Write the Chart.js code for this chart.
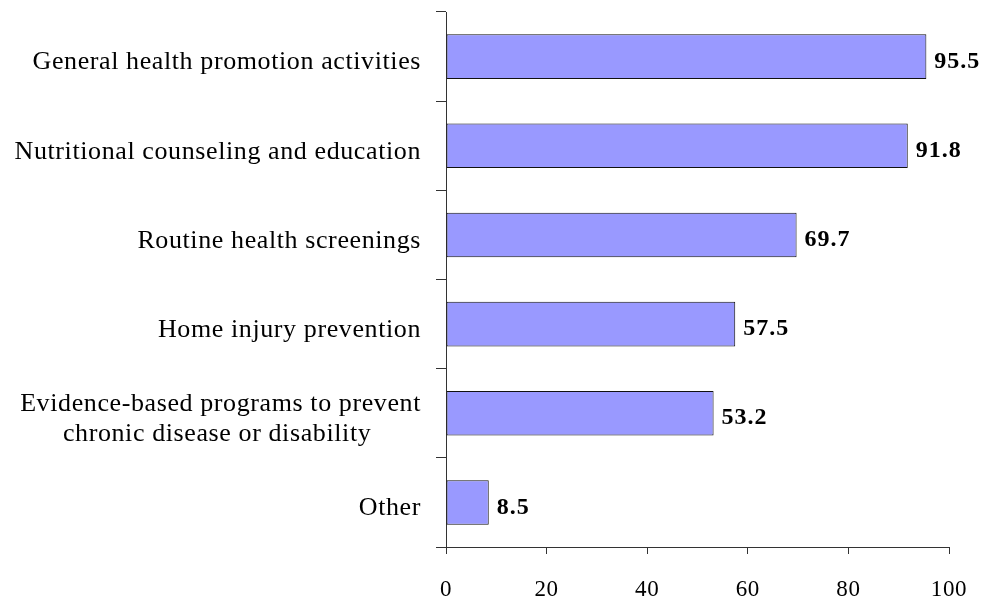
<!DOCTYPE html>
<html>
<head>
<meta charset="utf-8">
<script src="https://cdn.jsdelivr.net/npm/chart.js@4.4.1/dist/chart.umd.min.js"></script>
<style>
  html, body { margin: 0; padding: 0; background: #fff; }
</style>
</head>
<body>
<canvas id="chart" width="982" height="599"></canvas>
<script>
// data
const categories = [
  "General health promotion activities",
  "Nutritional counseling and education",
  "Routine health screenings",
  "Home injury prevention",
  ["Evidence-based programs to prevent", "chronic disease or disability       "],
  "Other"
];
const values = [95.5, 91.8, 69.7, 57.5, 53.2, 8.5];
const xTicks = [0, 20, 40, 60, 80, 100];

const serif = '"Liberation Serif", "DejaVu Serif", serif';

// the original font is a wide Garamond, so space the letters out a bit
const spacing = {
  id: "spacing",
  beforeUpdate(chart) { chart.ctx.letterSpacing = "0.6px"; },
  beforeDraw(chart) { chart.ctx.letterSpacing = "0.6px"; }
};

// bold value next to the end of each bar
const valueLabels = {
  id: "valueLabels",
  afterDatasetsDraw(chart) {
    const ctx = chart.ctx;
    const meta = chart.getDatasetMeta(0);
    ctx.save();
    ctx.font = "bold 24px " + serif;
    ctx.letterSpacing = "1px";
    ctx.fillStyle = "#000";
    ctx.textAlign = "left";
    ctx.textBaseline = "middle";
    meta.data.forEach((bar, i) => {
      ctx.fillText(values[i].toFixed(1), bar.x + 8, bar.y + 5);
    });
    ctx.restore();
  }
};

new Chart(document.getElementById("chart"), {
  type: "bar",
  data: {
    labels: categories,
    datasets: [{
      data: values,
      backgroundColor: "#9999FF",
      borderColor: "#111",
      borderWidth: 1,
      borderSkipped: false,
      categoryPercentage: 1,
      barPercentage: 0.5
    }]
  },
  options: {
    indexAxis: "y",
    responsive: false,
    animation: false,
    devicePixelRatio: 1,
    layout: { padding: { top: 12, right: 33, left: 0, bottom: 0 } },
    plugins: {
      legend: { display: false },
      tooltip: { enabled: false }
    },
    scales: {
      x: {
        min: 0,
        max: 100,
        afterBuildTicks: s => { s.ticks = xTicks.map(v => ({ value: v })); },
        afterFit: s => { s.height = 52; s.paddingLeft = 0; s.paddingRight = 0; },
        grid: { drawOnChartArea: false, tickLength: 7, color: "#333" },
        border: { color: "#333", width: 1 },
        ticks: { font: { family: serif, size: 23 }, color: "#000", padding: 22, maxRotation: 0 }
      },
      y: {
        afterFit: s => { s.width = 446; s.paddingTop = 0; s.paddingBottom = 0; },
        grid: { drawOnChartArea: false, tickLength: 10, color: "#333", offset: true },
        border: { color: "#333", width: 1 },
        ticks: { font: { family: serif, size: 26, lineHeight: 1.15 }, color: "#000", padding: 15, labelOffset: 6 }
      }
    }
  },
  plugins: [spacing, valueLabels]
});
</script>
</body>
</html>
